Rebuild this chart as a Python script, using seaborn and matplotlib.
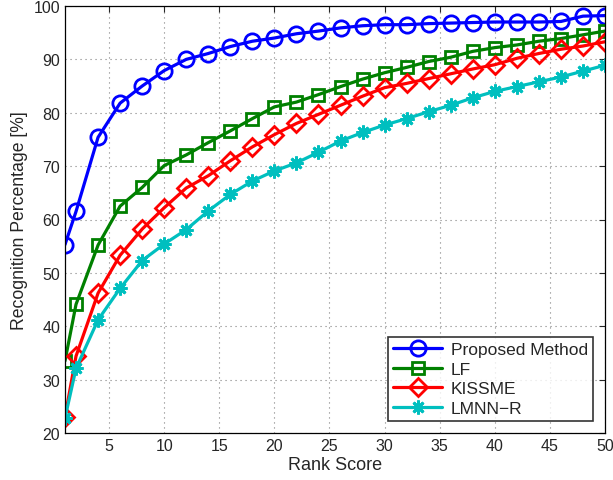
import numpy as np
import pandas as pd
import matplotlib
matplotlib.use("Agg")
import matplotlib.pyplot as plt
import seaborn as sns

ranks = [1, 2, 4, 6, 8, 10, 12, 14, 16, 18, 20, 22, 24, 26, 28, 30, 32, 34, 36, 38, 40, 42, 44, 46, 48, 50]
proposed = [55.3, 61.5, 75.4, 81.8, 85.0, 87.9, 90.0, 91.1, 92.4, 93.4, 94.0, 94.8, 95.3, 95.9, 96.3, 96.5, 96.5, 96.7, 96.8, 96.9, 97.0, 97.0, 97.0, 97.1, 98.1, 98.2]
lf = [33.5, 44.1, 55.2, 62.5, 66.0, 70.1, 72.1, 74.4, 76.6, 78.9, 81.1, 82.0, 83.4, 84.9, 86.3, 87.5, 88.5, 89.6, 90.4, 91.5, 92.2, 92.7, 93.4, 93.9, 94.6, 95.3]
kissme = [23.0, 34.4, 46.2, 53.3, 58.2, 62.2, 65.9, 68.2, 71.0, 73.6, 75.9, 78.0, 79.7, 81.4, 83.1, 84.7, 85.5, 86.4, 87.3, 88.2, 89.0, 90.2, 91.1, 91.9, 92.5, 93.3]
lmnnr = [22.8, 32.1, 41.2, 47.1, 52.3, 55.4, 58.1, 61.6, 64.7, 67.2, 69.1, 70.6, 72.6, 74.7, 76.3, 77.7, 78.9, 80.2, 81.4, 82.8, 84.0, 84.9, 85.8, 86.7, 87.8, 88.9]
series_names = ["Proposed Method", "LF", "KISSME", "LMNN\u2212R"]
xticks = [5, 10, 15, 20, 25, 30, 35, 40, 45, 50]
yticks = [20, 30, 40, 50, 60, 70, 80, 90, 100]

df = pd.concat([
    pd.DataFrame({"rank": ranks, "value": vals, "method": name})
    for name, vals in zip(series_names, [proposed, lf, kissme, lmnnr])
], ignore_index=True)

sns.set_style("white")
plt.rcParams["font.family"] = ["Liberation Sans", "DejaVu Sans"]

palette = {series_names[0]: (0, 0, 1), series_names[1]: (0, 0.5, 0),
           series_names[2]: (1, 0, 0), series_names[3]: (0, 0.75, 0.75)}
markers = {series_names[0]: "o", series_names[1]: "s",
           series_names[2]: "D", series_names[3]: (8, 2, 0)}
msizes = {series_names[0]: 11, series_names[1]: 9,
          series_names[2]: 9, series_names[3]: 10}

fig = plt.figure(figsize=(6.13, 4.81), dpi=100)
ax = fig.add_axes([65 / 613, 1 - 434 / 481, (605 - 65) / 613, (434 - 7) / 481])

for name in series_names:
    sub = df[df["method"] == name]
    sns.lineplot(data=sub, x="rank", y="value", ax=ax, color=palette[name],
                 marker=markers[name], markersize=msizes[name],
                 markerfacecolor="none" if name != series_names[3] else palette[name],
                 markeredgecolor=palette[name], markeredgewidth=2.0,
                 linewidth=2.3, label=name)

ax.set_xlim(1, 50)
ax.set_ylim(20, 100)
ax.set_xticks(xticks)
ax.set_yticks(yticks)
ax.grid(True, color="#808080", linestyle=(0, (1, 3.5)), linewidth=0.8)
ax.tick_params(direction="in", top=True, right=True, labelsize=11.5, length=4, width=0.8)
for s in ax.spines.values():
    s.set_visible(True)
    s.set_color("black")
    s.set_linewidth(0.9)
ax.set_xlabel("Rank Score", fontsize=13, labelpad=2)
ax.set_ylabel("Recognition Percentage [%]", fontsize=12.7, labelpad=4)

leg = ax.legend(loc="lower right", fontsize=12.5, frameon=True, fancybox=False,
                edgecolor="black", borderaxespad=0.7, handlelength=2.8,
                borderpad=0.3, labelspacing=0.25, handletextpad=0.5)
leg.get_frame().set_linewidth(1.2)

fig.savefig("out.png", dpi=100)
